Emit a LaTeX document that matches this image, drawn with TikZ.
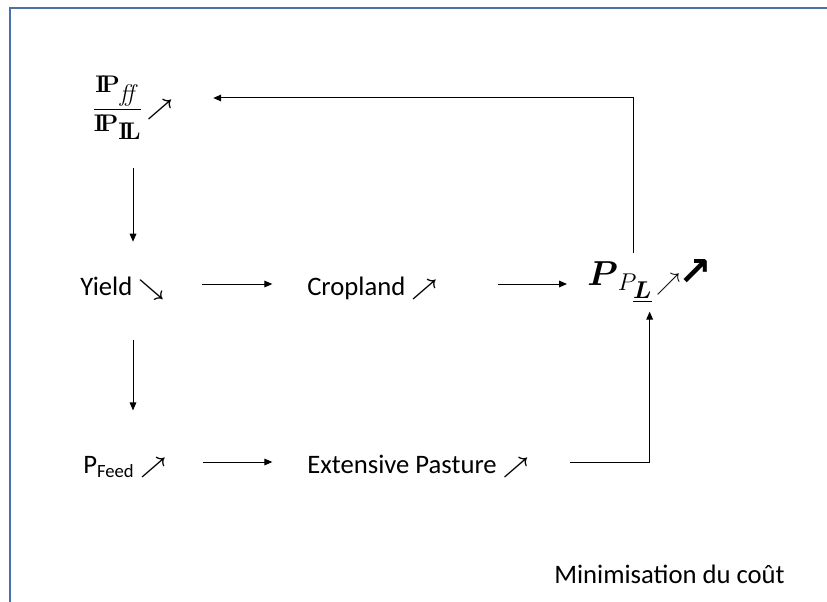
\RequirePackage{fix-cm}
\documentclass[tikz,border=0pt]{standalone}
\usepackage{amsmath,amssymb}
\usepackage[no-math]{fontspec}
\setmainfont{Carlito}
\newfontfamily\arrowfont{DejaVu Sans}
\usetikzlibrary{arrows.meta}
\definecolor{framecol}{RGB}{74,114,168}
\newcommand{\probP}{\mathbf{I\!P}}
\newcommand{\probL}{\mathbf{I\!L}}
\newcommand{\up}{{\fontsize{17}{20}\selectfont$\boldsymbol{\nearrow}$}}
\newcommand{\down}{{\fontsize{17}{20}\selectfont$\boldsymbol{\searrow}$}}

\begin{document}
\begin{tikzpicture}[x=0.75pt,y=0.75pt,
   lbl/.style={inner sep=0,text height=18pt,text depth=1pt,font=\fontsize{20}{24}\selectfont},
   conn/.style={-{Triangle[length=6pt,width=5pt]},line width=0.75pt}]
         \useasboundingbox (0,0) rectangle (827,-602) ;
         \draw[color=framecol,line width=1.5pt] (10,-602) -- (10,-8) -- (827,-8) ;
         % nodes
         \node[inner sep=0,anchor=west,font=\fontsize{18}{21}\selectfont] (frac) at (92,-108)
            {$\dfrac{\probP_{\textstyle\mathit{ff}}}{\probP_{\textstyle\probL}}$\,\up} ;
         \node[lbl,anchor=west] (yield) at (80,-284) {Yield \down} ;
         \node[lbl,anchor=west] (crop) at (307,-284) {Cropland \up} ;
         \node[inner sep=0,anchor=base west,font=\fontsize{26}{30}\selectfont] (ppl) at (587,-285)
            {$\boldsymbol{P}_{P_{\scriptstyle\underline{\boldsymbol{L}}}\,\nearrow}$\kern-2pt{\arrowfont\bfseries\fontsize{30}{34}\selectfont ↗}} ;
         \node[lbl,anchor=west] (feed) at (83,-462) {P\textsubscript{Feed} \up} ;
         \node[lbl,anchor=west] (past) at (307,-462) {Extensive Pasture \up} ;
         \node[lbl,anchor=base west] (cout) at (554,-583) {Minimisation du coût} ;
         % connectors
         \coordinate (stem) at (133,0) ;
         \coordinate (turn) at (633,-98) ;
         \draw[conn,shorten <=21pt,shorten >=22pt] (frac.south -| stem) -- (yield.north -| stem) ;
         \draw[conn,shorten <=32pt,shorten >=29pt] (yield.south -| stem) -- (feed.north -| stem) ;
         \draw[conn,shorten <=28pt,shorten >=26pt] (yield.east) -- (crop.west) ;
         \draw[conn,shorten <=45pt,shorten >=15pt] (crop.east) -- (crop.east -| ppl.west) ;
         \draw[conn,shorten <=27pt,shorten >=26pt] (feed.east) -- (past.west) ;
         \draw[conn,shorten <=31pt,shorten >=6pt] (past.east) -| (ppl.south) ;
         \draw[conn,shorten <=4pt,shorten >=30pt] (ppl.north -| turn) -- (turn) -- (frac.east |- turn) ;
      \end{tikzpicture}
\end{document}
